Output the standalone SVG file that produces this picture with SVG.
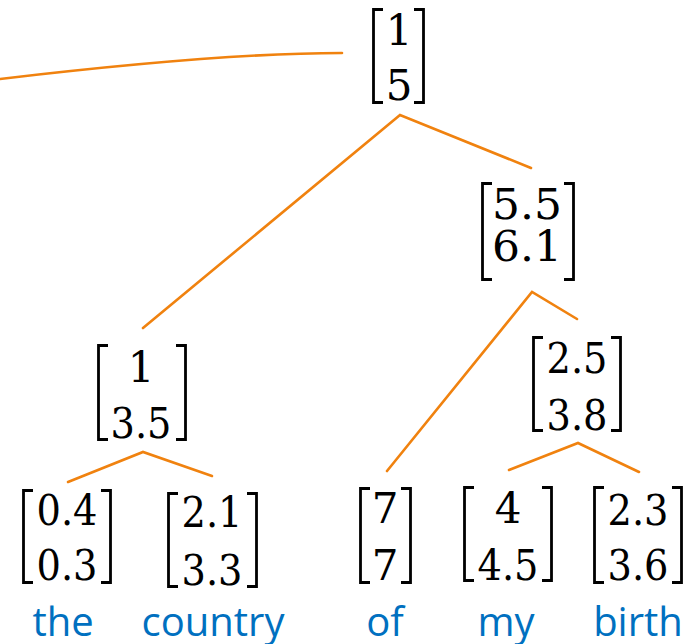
<svg xmlns="http://www.w3.org/2000/svg" width="696" height="644" viewBox="0 0 696 644">
<style>
.br{fill:none;stroke:#000;stroke-width:2.8;stroke-linejoin:miter}
.n{font-family:"DejaVu Serif","Liberation Serif",serif;font-size:42px;fill:#000;text-anchor:middle}
.big{font-size:43px}
.w{font-family:"Open Sans","Liberation Sans",sans-serif;font-size:40px;fill:#0070C0;text-anchor:middle}
.c{fill:none;stroke:#F0820F;stroke-width:2.6;stroke-linecap:round}
</style>
<rect width="696" height="644" fill="#fff"/>
<g id="connectors">
<path class="c" d="M0,79 Q220,53 342,53"/>
<path class="c" d="M143,328 L400,115 L531,168"/>
<path class="c" d="M387,471 L532,292 L577,319"/>
<path class="c" d="M68,482 L143,452 L212,476"/>
<path class="c" d="M509,470 L578,443 L639,472"/>
</g>
<g id="n1">
<path class="br" d="M383,9.5H373.5V102.5H383M414,9.5H423.5V102.5H414"/>
<text class="n" x="399" y="45">1</text><text class="n" x="399" y="100">5</text>
</g>
<g id="n2">
<path class="br" d="M492,183.5H482.5V279.5H492M564,183.5H573.5V279.5H564"/>
<text class="n big" x="527" y="219" textLength="70" lengthAdjust="spacingAndGlyphs">5.5</text><text class="n big" x="527" y="261" textLength="70" lengthAdjust="spacingAndGlyphs">6.1</text>
</g>
<g id="n3">
<path class="br" d="M108,345.5H98.5V439.5H108M176,345.5H185.5V439.5H176"/>
<text class="n" x="141" y="382">1</text><text class="n" x="141" y="438" textLength="61" lengthAdjust="spacingAndGlyphs">3.5</text>
</g>
<g id="n4">
<path class="br" d="M543,337.5H533.5V430.5H543M611,337.5H620.5V430.5H611"/>
<text class="n" x="577" y="373" textLength="61" lengthAdjust="spacingAndGlyphs">2.5</text><text class="n" x="577" y="430" textLength="61" lengthAdjust="spacingAndGlyphs">3.8</text>
</g>
<g id="leaf-the">
<path class="br" d="M33,490.5H23.5V582.5H33M101,490.5H110.5V582.5H101"/>
<text class="n" x="67" y="525" textLength="61" lengthAdjust="spacingAndGlyphs">0.4</text><text class="n" x="67" y="580" textLength="61" lengthAdjust="spacingAndGlyphs">0.3</text>
<text class="w" x="63" y="636">the</text>
</g>
<g id="leaf-country">
<path class="br" d="M178,493.5H168.5V586.5H178M247,493.5H256.5V586.5H247"/>
<text class="n" x="212" y="527" textLength="61" lengthAdjust="spacingAndGlyphs">2.1</text><text class="n" x="212" y="585" textLength="61" lengthAdjust="spacingAndGlyphs">3.3</text>
<text class="w" x="213" y="636">country</text>
</g>
<g id="leaf-of">
<path class="br" d="M370,488.5H360.5V582.5H370M401,488.5H410.5V582.5H401"/>
<text class="n" x="385" y="523">7</text><text class="n" x="385" y="580">7</text>
<text class="w" x="385" y="636">of</text>
</g>
<g id="leaf-my">
<path class="br" d="M474,487.5H464.5V580.5H474M542,487.5H551.5V580.5H542"/>
<text class="n" x="508" y="523">4</text><text class="n" x="508" y="580" textLength="61" lengthAdjust="spacingAndGlyphs">4.5</text>
<text class="w" x="506" y="636">my</text>
</g>
<g id="leaf-birth">
<path class="br" d="M604,487.5H594.5V582.5H604M672,487.5H681.5V582.5H672"/>
<text class="n" x="638" y="525" textLength="61" lengthAdjust="spacingAndGlyphs">2.3</text><text class="n" x="638" y="580" textLength="61" lengthAdjust="spacingAndGlyphs">3.6</text>
<text class="w" x="638" y="636">birth</text>
</g>
</svg>
